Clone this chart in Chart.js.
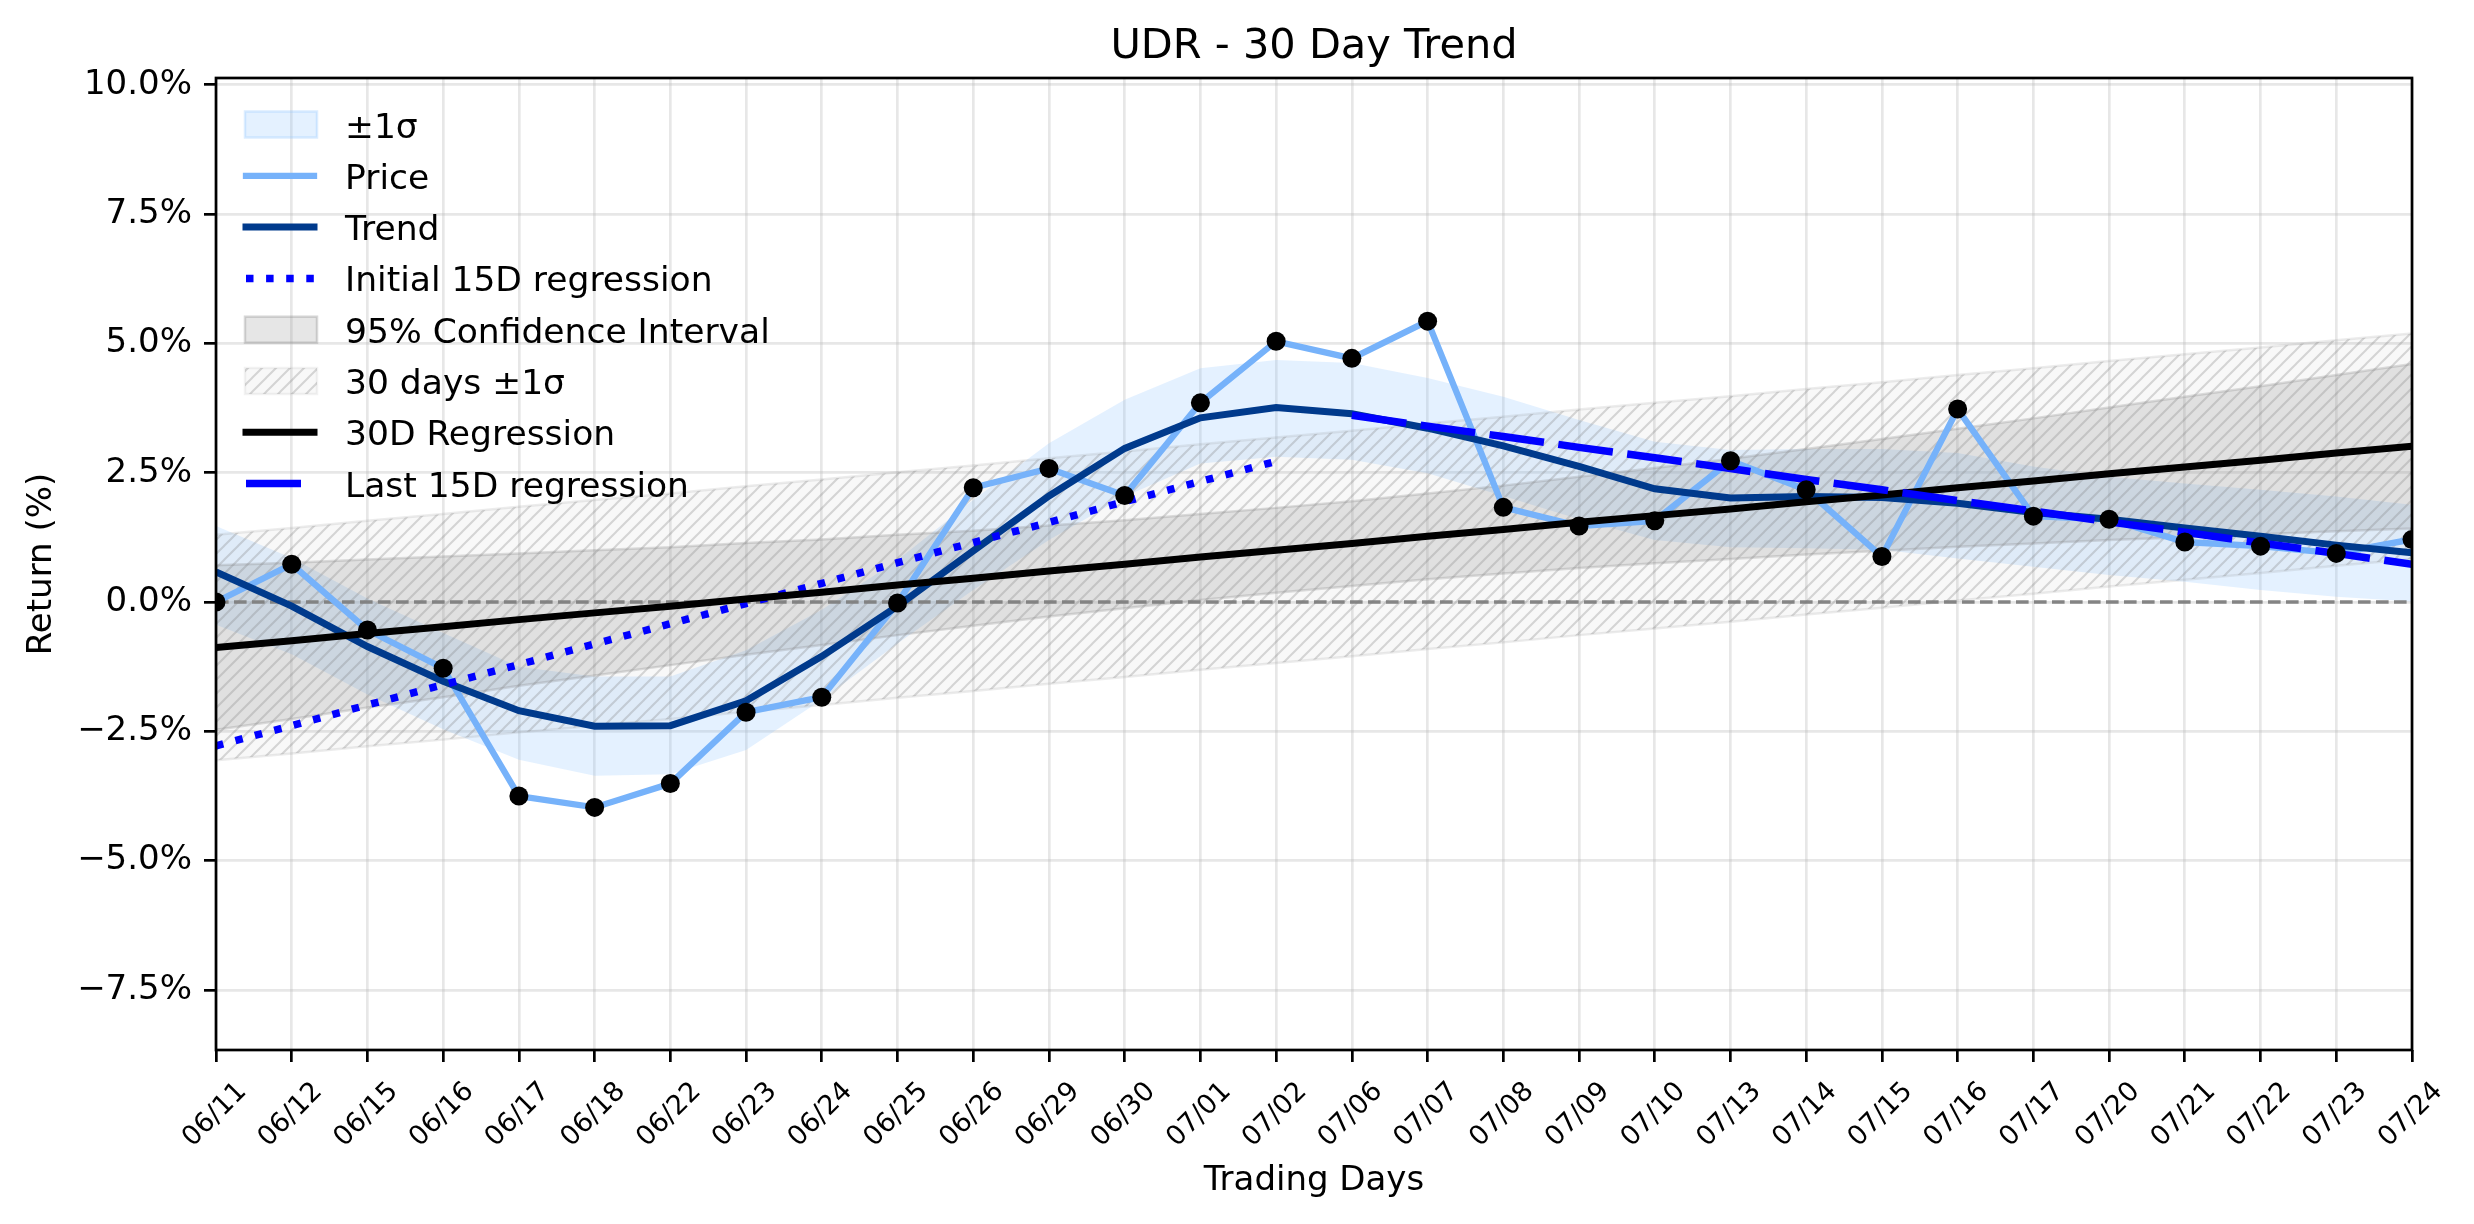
<!DOCTYPE html>
<html>
<head>
<meta charset="utf-8">
<title>UDR - 30 Day Trend</title>
<script src="https://cdn.jsdelivr.net/npm/chart.js@4.4.1/dist/chart.umd.min.js"></script>
<style>
  html, body { margin: 0; padding: 0; background: #fff; }
  #wrap { width: 2474px; height: 1224px; }
</style>
</head>
<body>
<div id="wrap"><canvas id="trendChart" width="2474" height="1224"></canvas></div>
<script>
// values, return in %
const days = ['06/11', '06/12', '06/15', '06/16', '06/17', '06/18', '06/22', '06/23', '06/24', '06/25',
              '06/26', '06/29', '06/30', '07/01', '07/02', '07/06', '07/07', '07/08', '07/09', '07/10',
              '07/13', '07/14', '07/15', '07/16', '07/17', '07/20', '07/21', '07/22', '07/23', '07/24'];

const price = [0.00, 0.73, -0.54, -1.28, -3.75, -3.97, -3.51, -2.13, -1.84, -0.02,
               2.21, 2.58, 2.06, 3.85, 5.04, 4.71, 5.43, 1.83, 1.47, 1.57,
               2.73, 2.17, 0.88, 3.73, 1.66, 1.60, 1.16, 1.08, 0.94, 1.21];

const trend = [0.58, -0.08, -0.86, -1.53, -2.10, -2.40, -2.39, -1.91, -1.05, -0.08,
               0.99, 2.05, 2.97, 3.56, 3.76, 3.64, 3.36, 3.02, 2.62, 2.19,
               2.01, 2.04, 2.02, 1.91, 1.73, 1.60, 1.43, 1.27, 1.10, 0.95];

const sigmaUpper = [1.47, 0.85, 0.07, -0.60, -1.25, -1.44, -1.44, -0.93, -0.15, 0.81,
                    1.97, 3.07, 3.91, 4.52, 4.68, 4.62, 4.33, 3.97, 3.52, 3.10,
                    2.94, 2.96, 2.96, 2.88, 2.62, 2.42, 2.29, 2.17, 2.04, 1.88];
const sigmaLower = [-0.44, -1.01, -1.79, -2.46, -3.05, -3.36, -3.33, -2.86, -1.89, -0.80,
                    0.23, 1.20, 2.04, 2.68, 2.81, 2.75, 2.49, 2.05, 1.60, 1.20,
                    1.06, 1.04, 1.01, 0.84, 0.68, 0.52, 0.39, 0.23, 0.10, 0.01];

const regression30 = [-0.88, -0.75, -0.61, -0.48, -0.34, -0.21, -0.08, 0.06, 0.19, 0.33,
                      0.46, 0.60, 0.73, 0.87, 1.00, 1.13, 1.27, 1.40, 1.54, 1.67,
                      1.80, 1.94, 2.07, 2.21, 2.34, 2.48, 2.61, 2.74, 2.88, 3.01];

const ciUpper = [0.71, 0.76, 0.82, 0.88, 0.94, 1.00, 1.06, 1.14, 1.21, 1.30,
                 1.38, 1.48, 1.58, 1.70, 1.82, 1.95, 2.10, 2.25, 2.42, 2.59,
                 2.77, 2.96, 3.15, 3.35, 3.55, 3.76, 3.97, 4.17, 4.39, 4.60];
const ciLower = [-2.47, -2.26, -2.04, -1.84, -1.62, -1.42, -1.22, -1.02, -0.83, -0.64,
                 -0.46, -0.28, -0.12, 0.04, 0.18, 0.31, 0.44, 0.55, 0.66, 0.75,
                 0.83, 0.92, 0.99, 1.07, 1.13, 1.20, 1.25, 1.31, 1.37, 1.42];

const band30Upper = [1.30, 1.43, 1.57, 1.70, 1.84, 1.97, 2.10, 2.24, 2.37, 2.51,
                     2.64, 2.78, 2.91, 3.05, 3.18, 3.31, 3.45, 3.58, 3.72, 3.85,
                     3.98, 4.12, 4.25, 4.39, 4.52, 4.66, 4.79, 4.92, 5.06, 5.19];
const band30Lower = [-3.06, -2.93, -2.79, -2.66, -2.52, -2.39, -2.26, -2.12, -1.99, -1.85,
                     -1.72, -1.58, -1.45, -1.31, -1.18, -1.05, -0.91, -0.78, -0.64, -0.51,
                     -0.38, -0.24, -0.11, 0.03, 0.16, 0.30, 0.43, 0.56, 0.70, 0.83];

const initial15 = [-2.78, -2.39, -1.99, -1.60, -1.21, -0.81, -0.42, -0.03, 0.36, 0.76,
                   1.15, 1.54, 1.94, 2.33, 2.72, null, null, null, null, null,
                   null, null, null, null, null, null, null, null, null, null];
const last15 = [null, null, null, null, null, null, null, null, null, null,
                null, null, null, null, null, 3.61, 3.40, 3.20, 2.99, 2.79,
                2.58, 2.37, 2.17, 1.96, 1.76, 1.55, 1.35, 1.14, 0.94, 0.73];

const zeroLine = days.map(() => 0);
const yTicks = [-7.5, -5.0, -2.5, 0.0, 2.5, 5.0, 7.5, 10.0];
const yMin = -8.66, yMax = 10.13;

const chartTitle = 'UDR - 30 Day Trend';
const legendOrder = ['±1σ', 'Price', 'Trend', 'Initial 15D regression', '95% Confidence Interval',
                     '30 days ±1σ', '30D Regression', 'Last 15D regression'];

// hatch tile for the 30 day band
function makeHatch() {
    const s = 14;
    const c = document.createElement('canvas');
    c.width = s; c.height = s;
    const g = c.getContext('2d');
    g.fillStyle = 'rgba(128,128,128,0.06)';
    g.fillRect(0, 0, s, s);
    g.strokeStyle = 'rgba(128,128,128,0.30)';
    g.lineWidth = 2;
    g.beginPath();
    g.moveTo(0, s); g.lineTo(s, 0);
    g.moveTo(-s / 2, s / 2); g.lineTo(s / 2, -s / 2);
    g.moveTo(s / 2, s * 1.5); g.lineTo(s * 1.5, s / 2);
    g.stroke();
    return g.createPattern(c, 'repeat');
}
const hatch = makeHatch();

const GRID = 'rgba(176,176,176,0.3)';

// title centred over the plot area
const plotTitle = {
    id: 'plotTitle',
    afterDraw(chart) {
        const a = chart.chartArea;
        const ctx = chart.ctx;
        ctx.save();
        ctx.font = '41.5px "DejaVu Sans"';
        ctx.fillStyle = '#000';
        ctx.textAlign = 'center';
        ctx.textBaseline = 'alphabetic';
        ctx.fillText(chartTitle, (a.left + a.right) / 2, 57.5);
        ctx.restore();
    }
};

// legend drawn inside the plot, like the original
const insideLegend = {
    id: 'insideLegend',
    afterDraw(chart) {
        const ctx = chart.ctx;
        const sets = chart.data.datasets;
        const top = 124.5, step = 51.3;
        ctx.save();
        ctx.font = '34.5px "DejaVu Sans"';
        ctx.fillStyle = '#000';
        ctx.textBaseline = 'alphabetic';
        legendOrder.forEach((label, i) => {
            const d = sets.find(s => s.label === label);
            const y = top + i * step;
            if (d.fill) {
                ctx.fillStyle = d.backgroundColor;
                ctx.fillRect(245, y - 13, 72, 26);
                ctx.strokeStyle = d.legendEdge || 'rgba(0,0,0,0)';
                ctx.lineWidth = 2.5;
                ctx.strokeRect(245, y - 13, 72, 26);
            } else {
                ctx.strokeStyle = d.borderColor;
                ctx.lineWidth = d.borderWidth;
                ctx.setLineDash(d.borderDash || []);
                ctx.lineCap = d.borderDash ? 'butt' : 'square';
                ctx.beginPath();
                ctx.moveTo(246, y);
                ctx.lineTo(314, y);
                ctx.stroke();
                ctx.setLineDash([]);
            }
            ctx.fillStyle = '#000';
            ctx.fillText(label, 345, y + 13);
        });
        ctx.restore();
    }
};

// axes frame on top of the data
const frame = {
    id: 'frame',
    afterDatasetsDraw(chart) {
        const a = chart.chartArea;
        const ctx = chart.ctx;
        ctx.save();
        ctx.strokeStyle = '#000';
        ctx.lineWidth = 2.7;
        ctx.strokeRect(a.left, a.top, a.right - a.left, a.bottom - a.top);
        ctx.restore();
    }
};

Chart.defaults.font.family = "'DejaVu Sans', sans-serif";
Chart.defaults.color = '#000';

const line = (label, data, extra) => Object.assign({
    label, data,
    pointRadius: 0,
    pointHoverRadius: 0,
    fill: false,
    tension: 0,
    clip: 0
}, extra);

new Chart(document.getElementById('trendChart'), {
    type: 'line',
    data: {
        labels: days,
        datasets: [
            line('±1σ lower', sigmaLower, { borderColor: 'rgba(0,0,0,0)', borderWidth: 1, order: 100 }),
            line('±1σ', sigmaUpper, {
                borderColor: 'rgba(0,0,0,0)', borderWidth: 1, order: 99,
                fill: '-1', backgroundColor: 'rgba(140,195,255,0.23)', legendEdge: 'rgba(140,195,255,0.3)'
            }),
            line('CI lower', ciLower, { borderColor: 'rgba(128,128,128,0.25)', borderWidth: 2.5, order: 98 }),
            line('95% Confidence Interval', ciUpper, {
                borderColor: 'rgba(128,128,128,0.25)', borderWidth: 2.5, order: 97,
                fill: '-1', backgroundColor: 'rgba(128,128,128,0.2)', legendEdge: 'rgba(128,128,128,0.3)'
            }),
            line('30 days lower', band30Lower, { borderColor: 'rgba(128,128,128,0.15)', borderWidth: 2.5, order: 96 }),
            line('30 days ±1σ', band30Upper, {
                borderColor: 'rgba(128,128,128,0.15)', borderWidth: 2.5, order: 95,
                fill: '-1', backgroundColor: hatch, legendEdge: 'rgba(128,128,128,0.1)'
            }),
            line('zero', zeroLine, { borderColor: 'rgba(128,128,128,0.95)', borderWidth: 3.4, borderDash: [12.6, 5.4], order: 90 }),
            line('Price', price, { borderColor: 'rgb(118,178,250)', borderWidth: 6.3, order: 50 }),
            line('Trend', trend, { borderColor: '#003a8c', borderWidth: 7, order: 40 }),
            line('Initial 15D regression', initial15, { borderColor: '#0000ff', borderWidth: 7.5, borderDash: [7.5, 12.6], order: 30 }),
            line('30D Regression', regression30, { borderColor: '#000', borderWidth: 7, order: 20 }),
            line('Last 15D regression', last15, { borderColor: '#0000ff', borderWidth: 7.5, borderDash: [55, 14.5], order: 10 }),
            line('points', price, {
                showLine: false, pointRadius: 9.5, pointBackgroundColor: '#000',
                pointBorderWidth: 0, borderColor: '#000', order: 1
            })
        ]
    },
    options: {
        responsive: false,
        animation: false,
        events: [],
        layout: { padding: { top: 78, right: 62, bottom: 0, left: 0 } },
        plugins: {
            legend: { display: false },
            tooltip: { enabled: false },
            title: { display: false }
        },
        scales: {
            x: {
                type: 'category',
                offset: false,
                border: { display: false },
                grid: { color: GRID, lineWidth: 2.7, tickColor: '#000', tickLength: 12, tickWidth: 2.7 },
                ticks: {
                    autoSkip: false, maxRotation: 45, minRotation: 45,
                    font: { size: 27 }, color: '#000', padding: 14, labelOffset: 26.5
                },
                title: { display: true, text: 'Trading Days', font: { size: 34 }, padding: { top: 0, bottom: 22.6 } },
                afterFit: s => { s.height = 174; }
            },
            y: {
                type: 'linear',
                min: yMin,
                max: yMax,
                border: { display: false },
                grid: { color: GRID, lineWidth: 2.7, tickColor: '#000', tickLength: 12, tickWidth: 2.7 },
                ticks: {
                    font: { size: 34 }, color: '#000', padding: 12,
                    callback: v => (v < 0 ? '\u2212' : '') + Math.abs(v).toFixed(1) + '%'
                },
                afterBuildTicks: s => { s.ticks = yTicks.map(v => ({ value: v })); },
                title: { display: true, text: 'Return (%)', font: { size: 34 }, padding: { top: 22, bottom: 0 } },
                afterFit: s => { s.width = 216; }
            }
        }
    },
    plugins: [frame, plotTitle, insideLegend]
});
</script>
</body>
</html>
